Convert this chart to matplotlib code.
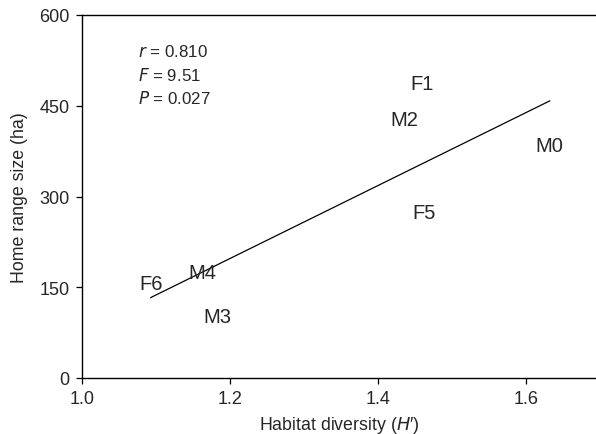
import matplotlib.pyplot as plt

plt.rcParams['font.family'] = ['Liberation Sans', 'DejaVu Sans']

# --- данные: метки особей и их координаты ---
labels = ['F6', 'M4', 'M3', 'F1', 'M2', 'F5', 'M0']
diversity = [1.093, 1.163, 1.183, 1.459, 1.435, 1.462, 1.632]
home_range = [157, 175, 101, 487, 427, 273, 384]

# линия регрессии (концы)
fit_x = [1.093, 1.632]
fit_y = [133, 458]

stats_lines = [r'$r$ = 0.810', r'$F$ = 9.51', r'$P$ = 0.027']

fig = plt.figure(figsize=(5.96, 4.35), dpi=100)
ax = fig.add_axes([82 / 596, 1 - 379 / 435, 1 - 82 / 596, (379 - 16) / 435])

txt_color = '#262626'
ax.plot(fit_x, fit_y, color='black', lw=0.9)
for lab, x, y in zip(labels, diversity, home_range):
    ax.text(x, y, lab, ha='center', va='center', fontsize=14.5, color=txt_color)

for i, s in enumerate(stats_lines):
    ax.text(0.109, 0.901 - i * 0.064, s, transform=ax.transAxes,
            fontsize=12.2, color=txt_color, va='center', ha='left')

ax.set_xlim(1.0, 1.0 + (596 - 82) / 740)
ax.set_ylim(0, 600)
ax.set_xticks([1.0, 1.2, 1.4, 1.6])
ax.set_xticklabels(['1.0', '1.2', '1.4', '1.6'])
ax.set_yticks([0, 150, 300, 450, 600])
ax.spines['right'].set_visible(False)
for sp in ['left', 'top', 'bottom']:
    ax.spines[sp].set_linewidth(1.0)
ax.tick_params(direction='out', length=4, width=0.9, labelsize=13,
               labelcolor=txt_color, pad=5)

ax.set_xlabel(r'Habitat diversity ($H$′)', fontsize=12.8, color=txt_color, labelpad=5)
ax.set_ylabel('Home range size (ha)', fontsize=12.8, color=txt_color, labelpad=8)

fig.savefig('out.png', dpi=100)
